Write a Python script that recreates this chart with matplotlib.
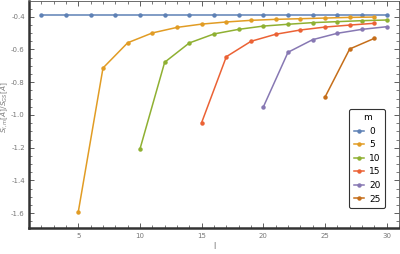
import matplotlib
matplotlib.use("Agg")
import matplotlib.pyplot as plt
from matplotlib.ticker import MultipleLocator, FuncFormatter

# Data
l_m0 = [2, 4, 6, 8, 10, 12, 14, 16, 18, 20, 22, 24, 26, 28, 30]
s_m0 = [-0.388] * 15
l_m5 = [5, 7, 9, 11, 13, 15, 17, 19, 21, 23, 25, 27, 29]
s_m5 = [-1.59, -0.713, -0.559, -0.499, -0.465, -0.445, -0.432, -0.422, -0.416, -0.412, -0.408, -0.404, -0.402]
l_m10 = [10, 12, 14, 16, 18, 20, 22, 24, 26, 28, 30]
s_m10 = [-1.207, -0.678, -0.560, -0.505, -0.477, -0.457, -0.446, -0.436, -0.430, -0.424, -0.420]
l_m15 = [15, 17, 19, 21, 23, 25, 27, 29]
s_m15 = [-1.046, -0.644, -0.550, -0.507, -0.481, -0.463, -0.451, -0.440]
l_m20 = [20, 22, 24, 26, 28, 30]
s_m20 = [-0.951, -0.617, -0.540, -0.501, -0.477, -0.461]
l_m25 = [25, 27, 29]
s_m25 = [-0.891, -0.597, -0.532]

m_labels = ["0", "5", "10", "15", "20", "25"]
colors = ["#5E81B5", "#E19C24", "#8FB032", "#EB6235", "#8778B3", "#C56E1A"]

series = [(l_m0, s_m0), (l_m5, s_m5), (l_m10, s_m10), (l_m15, s_m15), (l_m20, s_m20), (l_m25, s_m25)]

fig = plt.figure(figsize=(4.0, 2.54), dpi=100)
ax = fig.add_axes([0.0725, 0.1024, 0.925, 0.8936])

for (x, y), c, lab in zip(series, colors, m_labels):
    ax.plot(x, y, color=c, lw=1.1, marker="o", ms=2.2, label=lab)

ax.set_xlim(1.0, 31.0)
ax.set_ylim(-1.69, -0.304)

ax.xaxis.set_major_locator(MultipleLocator(5))
ax.xaxis.set_minor_locator(MultipleLocator(1))
ax.yaxis.set_major_locator(MultipleLocator(0.2))
ax.yaxis.set_minor_locator(MultipleLocator(0.05))

ax.tick_params(which="both", direction="in", top=True, right=True, colors="#444444",
               labelcolor="#777777", labelsize=5)
ax.tick_params(which="major", length=3.5, width=0.6)
ax.tick_params(which="minor", length=2, width=0.5)
ax.tick_params(axis="y", pad=3)

ax.yaxis.set_major_formatter(FuncFormatter(lambda v, p: f"-{abs(v):.1f}"))

for side in ["left", "bottom"]:
    ax.spines[side].set_linewidth(1.8)
    ax.spines[side].set_color("#333333")
for side in ["top", "right"]:
    ax.spines[side].set_linewidth(0.6)
    ax.spines[side].set_color("#555555")

ax.set_xlabel("l", fontsize=6, color="#777777", labelpad=2)
fig.text(0.012, 0.58, r"$S_{l,m}[A]/S_{GS}[A]$", fontsize=5.3, color="#777777",
         rotation=90, ha="center", va="center")

leg = ax.legend(title="m", loc="lower right", bbox_to_anchor=(0.962, 0.088), fontsize=6.5,
                title_fontsize=6.5, frameon=True, fancybox=True, handlelength=1.2,
                handletextpad=0.5, labelspacing=0.5, borderpad=0.5, borderaxespad=0.0,
                markerscale=1.0)
leg.get_frame().set_edgecolor("#333333")
leg.get_frame().set_linewidth(0.8)
leg.get_frame().set_alpha(1)

fig.savefig("out.png", dpi=100)
